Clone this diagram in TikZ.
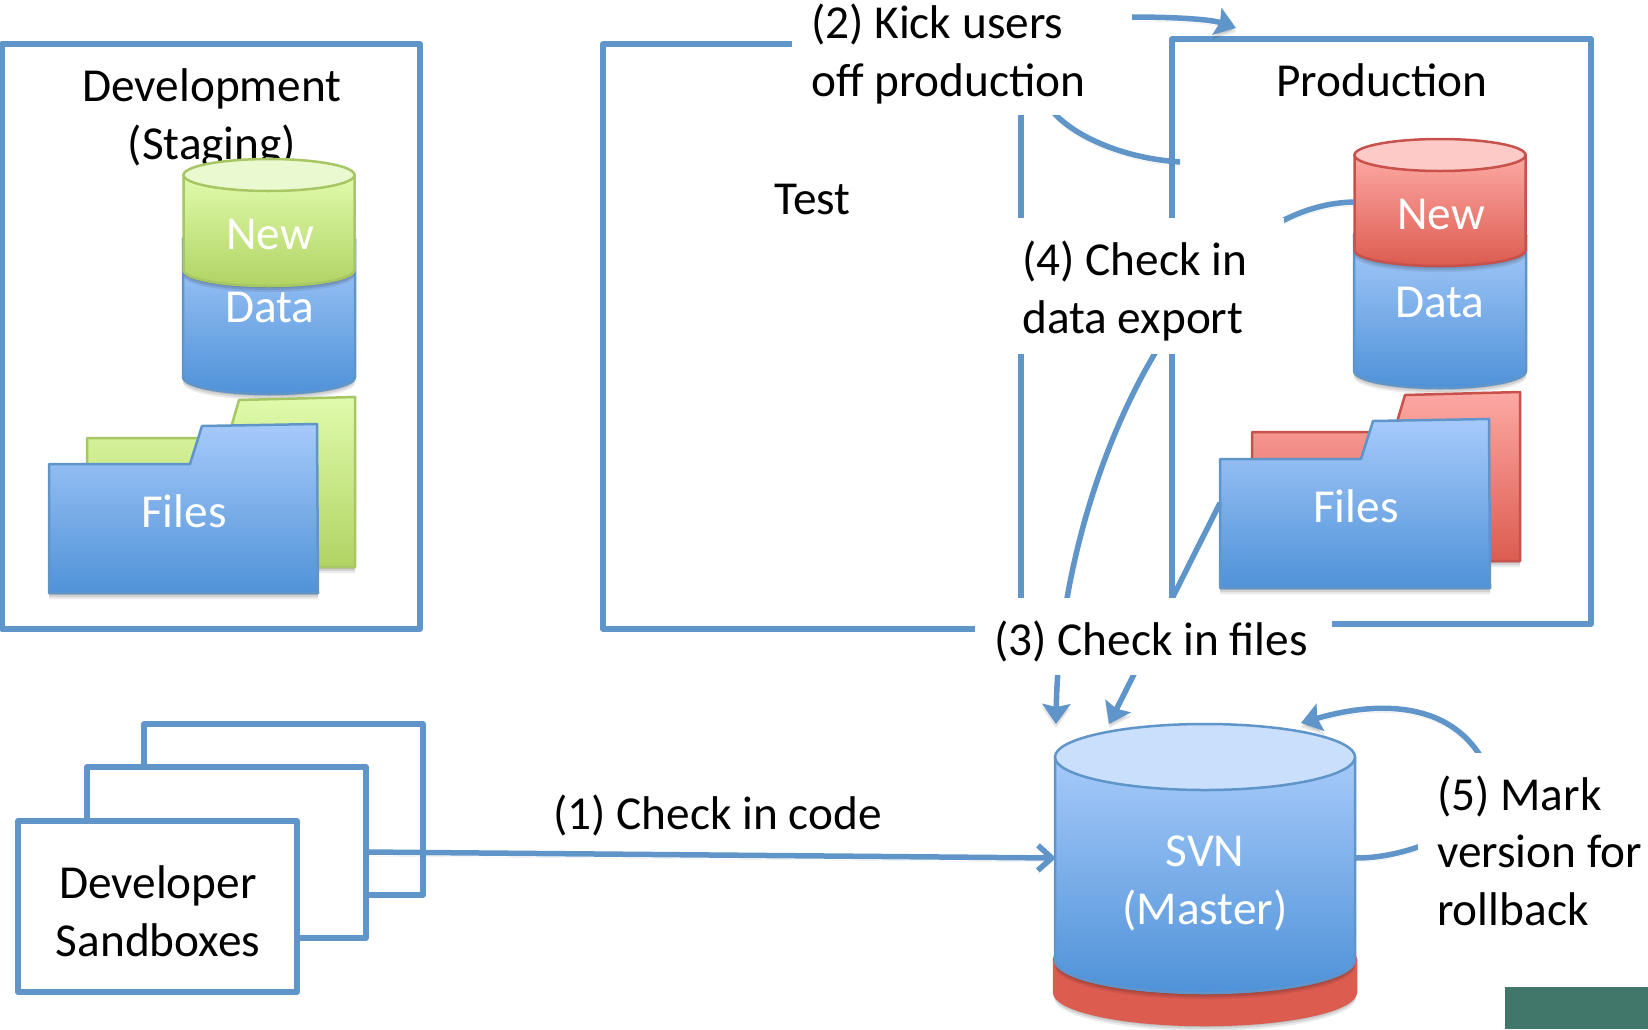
\documentclass[tikz,border=0pt]{standalone}
\usepackage{fontspec}
\setmainfont{Carlito}
\usetikzlibrary{arrows.meta,shadows}
\definecolor{linecol}{HTML}{6095CA}
\definecolor{blueT}{HTML}{A6CAFA}
\definecolor{blueB}{HTML}{4F92D8}
\definecolor{blueC}{HTML}{C9DFFB}
\definecolor{greenT}{HTML}{E0FBAC}
\definecolor{greenB}{HTML}{B1D363}
\definecolor{greenL}{HTML}{A7C664}
\definecolor{greenC}{HTML}{EAF9D0}
\definecolor{redT}{HTML}{FDA8A3}
\definecolor{redB}{HTML}{DC5C50}
\definecolor{redL}{HTML}{C8514B}
\definecolor{redC}{HTML}{FECAC7}
\definecolor{tealbox}{HTML}{41776B}
\tikzset{
  softshadow/.style={
    drop shadow={opacity=.10,fill=black,shadow xshift=0pt,shadow yshift=-2pt},
    drop shadow={opacity=.10,fill=black,shadow xshift=0pt,shadow yshift=-4pt},
    drop shadow={opacity=.08,fill=black,shadow xshift=0pt,shadow yshift=-6pt}},
  panel/.style={draw=linecol,line width=5.2pt,line join=round},
  sandbox/.style={panel,fill=white},
  conn/.style={draw=linecol,line width=5.5pt,
    preaction={draw=black,opacity=.10,transform canvas={yshift=-4pt}}},
  solidtip/.style={-{Stealth[length=20pt,width=28pt,inset=3pt]}},
  opentip/.style={-{Straight Barb[length=14pt,width=25pt]}},
  lbl/.style={inner sep=0pt,font=\fontsize{47.3}{57.5}\selectfont,text=black},
  wlbl/.style={lbl,text=white},
  folderblue/.style={draw=linecol,line width=2.5pt,line join=round,top color=blueT,bottom color=blueB,softshadow},
  foldergreen/.style={draw=greenL,line width=2.5pt,line join=round,top color=greenT,bottom color=greenB,softshadow},
  folderred/.style={draw=redL,line width=2.5pt,line join=round,top color=redT,bottom color=redB,softshadow},
  mask/.style={fill=white}
}
\newcommand{\cylbody}[9]{%
  \pgfmathsetmacro{\cxl}{#1-#4}\pgfmathsetmacro{\cxr}{#1+#4}
  \pgfmathsetmacro{\kxl}{#1-.5523*#4}\pgfmathsetmacro{\kxr}{#1+.5523*#4}
  \pgfmathsetmacro{\kyb}{#3+.5523*#5}\pgfmathsetmacro{\yb}{#3+#5}
  \path[draw=#8,line width=2.5pt,top color=#6,bottom color=#7,softshadow]
    (\cxl,#2) -- (\cxl,#3) .. controls (\cxl,\kyb) and (\kxl,\yb) .. (#1,\yb)
    .. controls (\kxr,\yb) and (\cxr,\kyb) .. (\cxr,#3) -- (\cxr,#2) -- cycle;
  \path[draw=#8,line width=2.5pt,fill=#9] (#1,#2) ellipse [x radius=#4,y radius=#5];
}
\begin{document}
\begin{tikzpicture}[x=1pt,y=-1pt]
\useasboundingbox (0,0) rectangle (1648,1029);
\fill[white] (0,0) rectangle (1648,1029);
\fill[tealbox] (1505,987) rectangle (1648,1029);

% panels
\draw[panel] (2,44) rectangle (420,629);
\draw[panel] (603,44) rectangle (1021,629);
\draw[panel] (1172,39) rectangle (1591,624);

% panel titles
\node[lbl,anchor=base] (devt) at (212,159) {\begin{tabular}[b]{@{}c@{}}Development\\[0pt](Staging)\end{tabular}};
\node[lbl,anchor=base west] (testt) at (774,214) {Test};
\node[lbl,anchor=base] (prodt) at (1382,96) {Production};

% development contents
\cylbody{269}{240}{377}{86}{17}{blueT}{blueB}{linecol}{blueC}
\cylbody{269}{175}{270}{85.5}{16}{greenT}{greenB}{greenL}{greenC}
\node[wlbl,anchor=base] (devnew) at (270,249) {New};
\node[wlbl,anchor=base] (devdata) at (270,322) {Data};
\path[foldergreen] (87,567) -- (87,438) -- (228,438) -- (239,400) -- (355,397) -- (355,567) -- cycle;
\path[folderblue] (49,593) -- (49,464) -- (190,464) -- (202,426) -- (317,424) -- (318,593) -- cycle;
\node[wlbl,anchor=base] (devfiles) at (184,527) {Files};

% production contents
\cylbody{1440}{236}{371}{86}{17}{blueT}{blueB}{linecol}{blueC}
\cylbody{1440}{155}{250}{85.5}{16}{redT}{redB}{redL}{redC}
\node[wlbl,anchor=base] (prodnew) at (1441,229) {New};
\node[wlbl,anchor=base] (proddata) at (1440,317) {Data};
\path[folderred] (1252,561) -- (1252,432) -- (1394,432) -- (1405,395) -- (1520,392) -- (1520,561) -- cycle;
\path[folderblue] (1220,588) -- (1220,459) -- (1361,459) -- (1373,421) -- (1489,419) -- (1490,588) -- cycle;
\node[wlbl,anchor=base] (prodfiles) at (1356,522) {Files};

% SVN
\cylbody{1205}{960}{992}{151}{33}{redB}{redB}{redB}{redB}
\cylbody{1205}{757}{960}{150}{33}{blueT}{blueB}{linecol}{blueC}
\node[wlbl,anchor=base] (svn) at (1205,924) {\begin{tabular}[b]{@{}c@{}}SVN\\[0pt](Master)\end{tabular}};

% sandboxes
\draw[sandbox] (144,724) rectangle (423,895);
\draw[sandbox] (87,767) rectangle (366,938);
\draw[sandbox] (18,821) rectangle (297,992);
\node[lbl,anchor=base] (devbox) at (158,956) {\begin{tabular}[b]{@{}c@{}}Developer\\[0pt]Sandboxes\end{tabular}};

% connector anchors
\coordinate (s1) at (366,852);
\coordinate (e1) at (1056,858);
\coordinate (s2) at (1180,162);
\coordinate (e2) at (1236,28);
\coordinate (s3) at (1220,503);
\coordinate (e3) at (1109,724);
\coordinate (s4) at (1354,202);
\coordinate (e4) at (1056,724);
\coordinate (s5) at (1355,858);
\coordinate (e5) at (1301,723);

% connectors
\draw[conn,opentip] (s1) -- (e1);
\draw[conn,solidtip] (s2) .. controls (1120,158) and (1075,135) .. (1056,115)
   .. controls (1000,60) and (1040,12) .. (1132,17)
   .. controls (1170,17) and (1210,19) .. (e2);
\draw[conn,solidtip] (s3) -- (e3);
\draw[conn,solidtip] (s4) .. controls (1190,205) and (1060,480) .. (e4);
\draw[conn,solidtip] (s5) .. controls (1380,858) and (1400,853) .. (1418,847)
   .. controls (1510,830) and (1510,800) .. (1490,775)
   .. controls (1460,700) and (1380,700) .. (e5);

% step labels on white
\fill[mask] (792,0) rectangle (1132,115);
\node[lbl,anchor=base west] (step2) at (811,96) {\begin{tabular}[b]{@{}l@{}}(2) Kick users\\[0pt]off production\end{tabular}};
\fill[mask] (1015,218) rectangle (1284,354);
\node[lbl,anchor=base west] (step4) at (1022,333) {\begin{tabular}[b]{@{}l@{}}(4) Check in\\[0pt]data export\end{tabular}};
\fill[mask] (975,598) rectangle (1332,675);
\node[lbl,anchor=base west] (step3) at (994,655) {(3) Check in files};
\fill[mask] (1418,753) rectangle (1648,975);
\node[lbl,anchor=base west] (step5) at (1437,925) {\begin{tabular}[b]{@{}l@{}}(5) Mark\\[0pt]version for\\[0pt]rollback\end{tabular}};
\node[lbl,anchor=base west] (step1) at (553,829) {(1) Check in code};
\end{tikzpicture}
\end{document}
